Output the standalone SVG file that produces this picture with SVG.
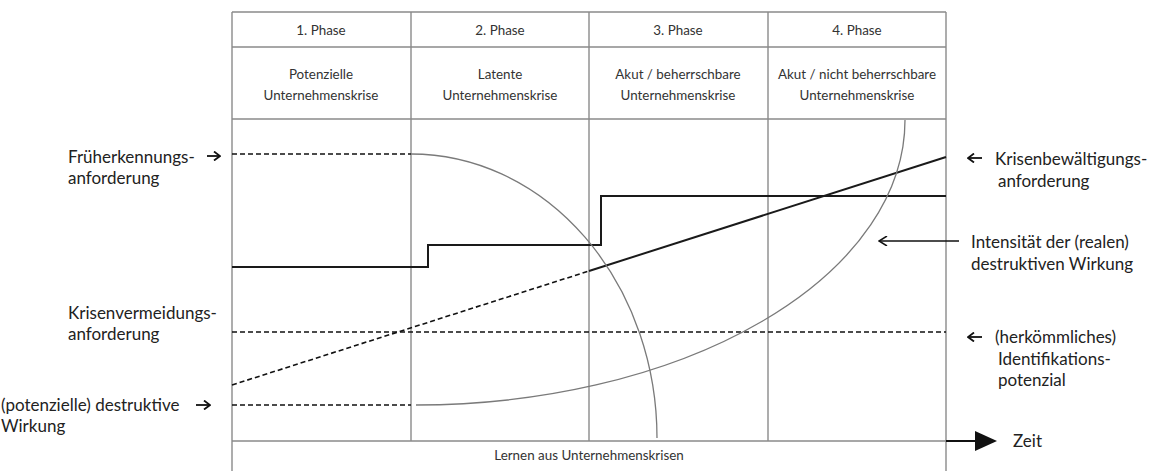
<svg xmlns="http://www.w3.org/2000/svg" width="1152" height="471" viewBox="0 0 1152 471">
  <style>
    .grid { stroke: #8a8a8a; stroke-width: 1.4; fill: none; }
    .cell { font-family: Lato, "Open Sans", sans-serif; font-size: 13.4px; fill: #333; text-anchor: middle; }
    .lbl { font-family: Lato, "Open Sans", "DejaVu Sans", sans-serif; font-size: 17px; fill: #222; }
    .ptr { stroke: #111; stroke-width: 1.8; fill: none; }
    .dash { stroke: #111; stroke-width: 1.6; stroke-dasharray: 5 3; fill: none; }
    .solid { stroke: #1a1a1a; stroke-width: 2; fill: none; }
    .curve { stroke: #7a7a7a; stroke-width: 1.3; fill: none; }
  </style>
  <defs>
    <marker id="openHead" viewBox="0 0 10 10" refX="9" refY="5" markerWidth="10" markerHeight="10" markerUnits="userSpaceOnUse" orient="auto">
      <path d="M1,0 L9,5 L1,10" fill="none" stroke="#111" stroke-width="1.5"/>
    </marker>
    <marker id="smallHead" viewBox="0 0 8 10" refX="7" refY="5" markerWidth="8" markerHeight="10" markerUnits="userSpaceOnUse" orient="auto">
      <path d="M1,0.5 L7,5 L1,9.5" fill="none" stroke="#111" stroke-width="1.8"/>
    </marker>
  </defs>
  <rect width="1152" height="471" fill="#fff"/>

  <!-- phase table -->
  <g id="table">
    <line class="grid" x1="232" y1="12" x2="946" y2="12"/>
    <line class="grid" x1="232" y1="47" x2="946" y2="47"/>
    <line class="grid" x1="232" y1="119" x2="946" y2="119"/>
    <line class="grid" x1="232" y1="441" x2="946" y2="441"/>
    <line class="grid" x1="232" y1="12" x2="232" y2="471"/>
    <line class="grid" x1="411" y1="12" x2="411" y2="441"/>
    <line class="grid" x1="589" y1="12" x2="589" y2="441"/>
    <line class="grid" x1="768" y1="12" x2="768" y2="441"/>
    <line class="grid" x1="946" y1="12" x2="946" y2="471"/>
  </g>
  <g id="phase1">
    <text class="cell" x="321" y="35">1. Phase</text>
    <text class="cell" x="321" y="79">Potenzielle</text>
    <text class="cell" x="321" y="100">Unternehmenskrise</text>
  </g>
  <g id="phase2">
    <text class="cell" x="500" y="35">2. Phase</text>
    <text class="cell" x="500" y="79">Latente</text>
    <text class="cell" x="500" y="100">Unternehmenskrise</text>
  </g>
  <g id="phase3">
    <text class="cell" x="678" y="35">3. Phase</text>
    <text class="cell" x="678" y="79">Akut / beherrschbare</text>
    <text class="cell" x="678" y="100">Unternehmenskrise</text>
  </g>
  <g id="phase4">
    <text class="cell" x="857" y="35">4. Phase</text>
    <text class="cell" x="857" y="79">Akut / nicht beherrschbare</text>
    <text class="cell" x="857" y="100">Unternehmenskrise</text>
  </g>
  <g id="learning">
    <text class="cell" x="589" y="460">Lernen aus Unternehmenskrisen</text>
  </g>

  <!-- curves and lines -->
  <g id="connectors">
    <!-- Früherkennungsanforderung -->
    <line class="dash" x1="232" y1="154" x2="411" y2="154"/>
    <!-- potenzielle destruktive Wirkung -->
    <line class="dash" x1="232" y1="405" x2="411" y2="405"/>
    <!-- herkömmliches Identifikationspotenzial -->
    <line class="dash" x1="232" y1="332" x2="946" y2="332"/>
    <!-- Krisenbewältigungsanforderung -->
    <line class="dash" x1="232" y1="385" x2="589" y2="271"/>
    <line class="solid" x1="589" y1="271" x2="946" y2="157"/>
    <!-- Krisenvermeidungsanforderung (steps) -->
    <polyline class="solid" points="232,267 428,267 428,245 601,245 601,196 946,196"/>
    <!-- falling and rising quarter ellipses -->
    <path class="curve" d="M411,154 A246,284 0 0 1 657,438"/>
    <path class="curve" d="M416,405 A489,285 0 0 0 905,120"/>
    <!-- pointer to real destructive intensity -->
    <line x1="959" y1="241" x2="879" y2="241" stroke="#111" stroke-width="1.6" marker-end="url(#openHead)"/>
    <!-- label pointers -->
    <line class="ptr" x1="207" y1="156" x2="220" y2="156" marker-end="url(#smallHead)"/>
    <line class="ptr" x1="196" y1="405" x2="210" y2="405" marker-end="url(#smallHead)"/>
    <line class="ptr" x1="982" y1="158" x2="968" y2="158" marker-end="url(#smallHead)"/>
    <line class="ptr" x1="982" y1="337" x2="968" y2="337" marker-end="url(#smallHead)"/>
    <!-- time axis -->
    <line x1="946" y1="441" x2="978" y2="441" stroke="#111" stroke-width="2"/>
    <polygon points="975,431 997,441 975,451" fill="#111"/>
  </g>

  <!-- left labels -->
  <g id="label-frueherkennung">
    <text class="lbl" x="68" y="163">Früherkennungs-</text>
    <text class="lbl" x="68" y="184">anforderung</text>
  </g>
  <g id="label-krisenvermeidung">
    <text class="lbl" x="68" y="319">Krisenvermeidungs-</text>
    <text class="lbl" x="68" y="340">anforderung</text>
  </g>
  <g id="label-potenzielle">
    <text class="lbl" x="1" y="411">(potenzielle) destruktive</text>
    <text class="lbl" x="1" y="432">Wirkung</text>
  </g>

  <!-- right labels -->
  <g id="label-krisenbewaeltigung">
    <text class="lbl" x="995" y="165">Krisenbewältigungs-</text>
    <text class="lbl" x="998" y="187">anforderung</text>
  </g>
  <g id="label-intensitaet">
    <text class="lbl" x="971" y="248">Intensität der (realen)</text>
    <text class="lbl" x="971" y="270">destruktiven Wirkung</text>
  </g>
  <g id="label-identifikation">
    <text class="lbl" x="995" y="343">(herkömmliches)</text>
    <text class="lbl" x="998" y="365">Identifikations-</text>
    <text class="lbl" x="998" y="386">potenzial</text>
  </g>
  <g id="label-zeit">
    <text class="lbl" x="1013" y="447">Zeit</text>
  </g>
</svg>
